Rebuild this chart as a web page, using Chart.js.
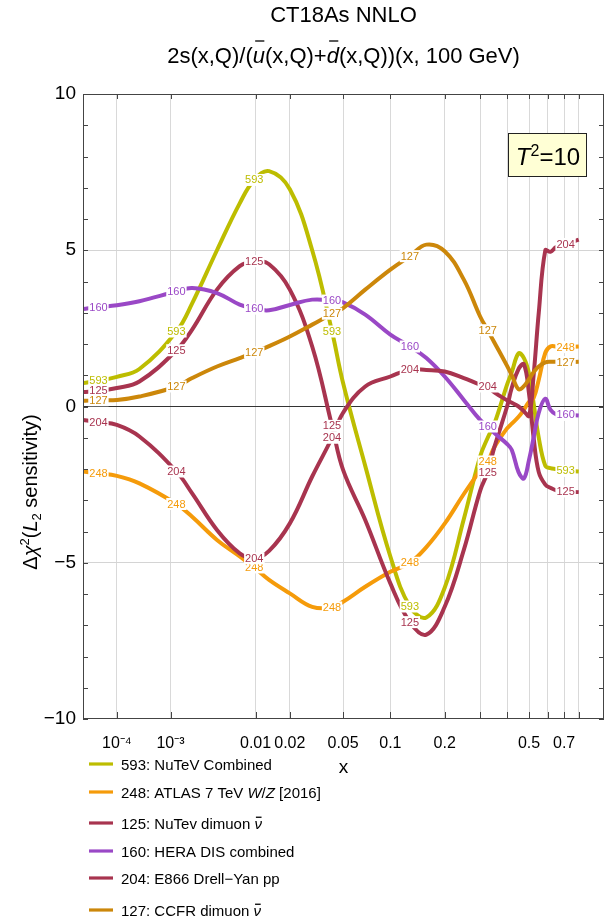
<!DOCTYPE html>
<html>
<head>
<meta charset="utf-8">
<script src="https://cdn.jsdelivr.net/npm/chart.js@4.4.0/dist/chart.umd.min.js"></script>
<style>
html, body { margin: 0; padding: 0; background: #fff; }
#caja { width: 615px; height: 924px; }
</style>
</head>
<body>
<div id="caja"><canvas id="grafica" width="615" height="924"></canvas></div>
<script>
// valores de x (momento) en los que se leen las curvas
const xs = [1e-5, 3.26e-5, 1e-4, 3e-4, 1.22e-3, 2e-3, 4e-3, 7e-3, 9.72e-3, 0.0133,
            0.02, 0.03, 0.0419, 0.05, 0.07, 0.1, 0.1297, 0.16, 0.2, 0.25,
            0.3, 0.3259, 0.35, 0.4, 0.42, 0.45, 0.475, 0.5, 0.523, 0.55,
            0.586, 0.615, 0.65, 0.7093, 0.8];

const nutevComb = [0.75, 0.82, 0.95, 1.2, 2.4, 3.3, 5.0, 6.5, 7.25, 7.53,
                   6.95, 5.0, 2.4, 0.75, -1.9, -4.8, -6.4, -6.75, -5.8, -3.6,
                   -1.6, -1.0, -0.55, 0.7, 1.1, 1.7, 1.55, 1.05, 0.1, -1.0,
                   -1.9, -1.97, -2.0, -2.06, -2.08];
const atlasWZ = [-2.08, -2.14, -2.22, -2.46, -3.12, -3.53, -4.27, -4.8, -5.15, -5.55,
                 -5.98, -6.41, -6.43, -6.25, -5.77, -5.29, -5.0, -4.5, -3.75, -2.8,
                 -2.05, -1.76, -1.3, -0.7, -0.55, -0.33, -0.1, 0.15, 0.27, 0.86,
                 1.72, 1.92, 1.92, 1.9, 1.92];
const nutevDimuon = [0.46, 0.5, 0.59, 0.8, 1.8, 2.46, 3.74, 4.49, 4.65, 4.55,
                     3.74, 1.92, -0.62, -2.03, -3.63, -5.66, -6.9, -7.3, -6.41, -4.59,
                     -2.7, -2.1, -1.3, 0.0, 0.6, 1.2, 1.35, 0.4, -1.0, -2.1,
                     -2.5, -2.6, -2.68, -2.72, -2.74];
const heraDis = [3.12, 3.18, 3.24, 3.37, 3.68, 3.79, 3.63, 3.26, 3.13, 3.08,
                 3.25, 3.42, 3.39, 3.33, 2.94, 2.3, 1.92, 1.55, 0.96, 0.21,
                 -0.43, -0.64, -0.85, -1.2, -1.39, -2.1, -2.3, -1.7, -1.0, -0.2,
                 0.25, -0.1, -0.25, -0.27, -0.29];
const e866 = [-0.43, -0.5, -0.59, -0.96, -2.08, -2.78, -3.95, -4.7, -4.86, -4.62,
              -3.74, -2.24, -1.0, -0.2, 0.64, 0.96, 1.18, 1.17, 1.12, 0.91,
              0.7, 0.64, 0.45, 0.2, 0.12, 0.0, -0.15, -0.3, 1.0, 3.0,
              5.0, 4.95, 5.1, 5.2, 5.34];
const ccfr = [0.18, 0.2, 0.21, 0.32, 0.64, 0.91, 1.28, 1.55, 1.73, 1.93,
              2.24, 2.62, 2.97, 3.15, 3.74, 4.38, 4.81, 5.18, 4.97, 4.06,
              2.88, 2.44, 2.05, 1.3, 1.0, 0.55, 0.65, 0.88, 1.1, 1.28,
              1.41, 1.43, 1.43, 1.42, 1.43];

const ids = ["593", "248", "125", "160", "204", "127"];
const nombres = ["593: NuTeV Combined", "248: ATLAS 7 TeV W/Z [2016]", "125: NuTev dimuon \u03bd\u0304",
                 "160: HERA DIS combined", "204: E866 Drell\u2212Yan pp", "127: CCFR dimuon \u03bd\u0304"];
const colores = ["#BDBD00", "#F59B0A", "#A8344F", "#9A48C6", "#A8344F", "#CC870A"];
const valores = [nutevComb, atlasWZ, nutevDimuon, heraDis, e866, ccfr];

// etiquetas numericas sobre las curvas
const etiquetasX = [3.26e-5, 1.22e-3, 9.72e-3, 0.0419, 0.1297, 0.3259, 0.7093];
const omitidas = { "593": [0.3259] };

const xTicks = [1e-4, 1e-3, 0.01, 0.02, 0.05, 0.1, 0.2, 0.3, 0.4, 0.5, 0.6, 0.7, 0.8];
const xTickLabels = ["10\u207b\u2074", "10\u207b\u00b3", "0.01", "0.02", "0.05", "0.1", "0.2", "", "", "0.5", "", "0.7", ""];
const yTickLabels = [-10, -5, 0, 5, 10];

const FAMILIA = "'Liberation Sans', Arial, sans-serif";
const ESCALA = x => Math.pow(x, 0.2);

function fuente(r, size) {
    let s = (r.sup || r.sub) ? Math.round(size * 0.65) : size;
    return (r.i ? "italic " : "") + s + "px " + FAMILIA;
}

// dibuja trozos de texto (cursiva, super/subindices, barra)
function trozos(ctx, runs, x, y, size, centrado, barH) {
    let total = 0;
    runs.forEach(r => { ctx.font = fuente(r, size); r.w = ctx.measureText(r.t).width; total += r.w; });
    let px = centrado ? x - total / 2 : x;
    runs.forEach(r => {
        ctx.font = fuente(r, size);
        let dy = r.sup ? -size * 0.38 : (r.sub ? size * 0.22 : 0);
        ctx.fillText(r.t, px, y + dy);
        if (r.bar) {
            ctx.save();
            ctx.strokeStyle = ctx.fillStyle;
            ctx.lineWidth = 1.3;
            ctx.beginPath();
            ctx.moveTo(px + r.w * 0.2, y - size * barH);
            ctx.lineTo(px + r.w * 0.95, y - size * barH);
            ctx.stroke();
            ctx.restore();
        }
        px += r.w;
    });
}

function partesNombre(nombre) {
    return nombre.split(/(W|Z|\u03bd\u0304)/).filter(t => t.length).map(t => {
        if (t === "W" || t === "Z") return { t: t, i: true };
        if (t === "\u03bd\u0304") return { t: "\u03bd", i: true, bar: true };
        return { t: t };
    });
}

const decoracion = {
    id: "decoracion",
    afterDatasetsDraw(chart) {
        const ctx = chart.ctx;
        ctx.save();
        ctx.font = "11px " + FAMILIA;
        ctx.textAlign = "center";
        ctx.textBaseline = "middle";
        chart.data.datasets.forEach((ds, d) => {
            const meta = chart.getDatasetMeta(d);
            const fuera = omitidas[ids[d]] || [];
            etiquetasX.forEach(xe => {
                if (fuera.includes(xe)) return;
                const k = xs.indexOf(xe);
                const p = meta.data[k];
                const w = ctx.measureText(ids[d]).width + 2;
                ctx.fillStyle = "#fff";
                ctx.fillRect(p.x - w / 2, p.y - 6, w, 12);
                ctx.fillStyle = ds.borderColor;
                ctx.fillText(ids[d], p.x, p.y + 0.5);
            });
        });
        ctx.restore();
    },
    afterDraw(chart) {
        const ctx = chart.ctx;
        const a = chart.chartArea;
        const sx = chart.scales.x, sy = chart.scales.y;
        ctx.save();
        // marco
        ctx.strokeStyle = "#444";
        ctx.lineWidth = 1;
        ctx.strokeRect(a.left + 0.5, a.top + 0.5, a.right - a.left - 1, a.bottom - a.top - 1);
        // marcas interiores
        ctx.beginPath();
        for (let v = -10; v <= 10; v++) {
            const py = Math.round(sy.getPixelForValue(v)) + 0.5;
            ctx.moveTo(a.left, py); ctx.lineTo(a.left + 5, py);
            ctx.moveTo(a.right, py); ctx.lineTo(a.right - 5, py);
        }
        xTicks.forEach(v => {
            const px = Math.round(sx.getPixelForValue(ESCALA(v))) + 0.5;
            ctx.moveTo(px, a.bottom); ctx.lineTo(px, a.bottom - 7);
            ctx.moveTo(px, a.top); ctx.lineTo(px, a.top + 5);
        });
        ctx.stroke();

        ctx.fillStyle = "#000";
        ctx.textBaseline = "alphabetic";
        const cx = (a.left + a.right) / 2;
        // titulo
        ctx.textAlign = "left";
        trozos(ctx, [{ t: "CT18As NNLO" }], cx, 22, 22, true, 0);
        trozos(ctx, [{ t: "2s(x,Q)/(" }, { t: "u", i: true, bar: true }, { t: "(x,Q)+" },
                     { t: "d", i: true, bar: true }, { t: "(x,Q))(x, 100 GeV)" }], cx, 63, 22, true, 1.0);
        // titulo eje x
        trozos(ctx, [{ t: "x" }], cx, 773, 19, true, 0);
        // titulo eje y
        ctx.save();
        ctx.translate(37, 492);
        ctx.rotate(-Math.PI / 2);
        trozos(ctx, [{ t: "\u0394" }, { t: "\u03c7", i: true }, { t: "2", sup: true }, { t: "(" },
                     { t: "L", i: true }, { t: "2", sub: true }, { t: " sensitivity)" }], 0, 0, 20, true, 0);
        ctx.restore();
        // recuadro T^2
        ctx.fillStyle = "#FFFFD5";
        ctx.fillRect(508, 133, 79, 44);
        ctx.strokeStyle = "#222";
        ctx.strokeRect(508.5, 133.5, 78, 43);
        ctx.fillStyle = "#000";
        trozos(ctx, [{ t: "T", i: true }, { t: "2", sup: true }, { t: "=10" }], 548, 165, 24, true, 0);
        // leyenda
        const filas = [764, 792, 823, 851, 878, 910];
        ctx.lineWidth = 3.2;
        nombres.forEach((n, i) => {
            ctx.strokeStyle = colores[i];
            ctx.beginPath();
            ctx.moveTo(89, filas[i]); ctx.lineTo(113, filas[i]);
            ctx.stroke();
            ctx.fillStyle = "#000";
            trozos(ctx, partesNombre(n), 121, filas[i] + 5.5, 15, false, 0.75);
        });
        ctx.restore();
    }
};

Chart.defaults.font.family = FAMILIA;
const CANVAS = document.getElementById("grafica");
new Chart(CANVAS, {
    type: "line",
    data: {
        datasets: valores.map((vals, i) => ({
            label: nombres[i],
            data: xs.map((x, k) => ({ x: ESCALA(x), y: vals[k] })),
            borderColor: colores[i],
            borderWidth: 4,
            pointRadius: 0,
            fill: false,
            tension: 0.4,
            order: 6 - i
        }))
    },
    options: {
        responsive: false,
        animation: false,
        devicePixelRatio: 1,
        layout: { padding: { left: 0, right: 11, top: 94, bottom: 145 } },
        plugins: { legend: { display: false }, title: { display: false }, tooltip: { enabled: false } },
        scales: {
            x: {
                type: "linear",
                min: 0.1,
                max: 1,
                afterBuildTicks: s => { s.ticks = xTicks.map(v => ({ value: ESCALA(v) })); },
                afterFit: s => { s.height = 60; },
                grid: { color: "#d9d9d9", drawTicks: false },
                border: { display: false },
                ticks: {
                    callback: (v, i) => xTickLabels[i],
                    autoSkip: false, maxRotation: 0, padding: 15,
                    color: "#000", font: { size: 16 }
                }
            },
            y: {
                min: -10,
                max: 10,
                afterFit: s => { s.width = 83; },
                grid: {
                    drawTicks: false,
                    color: c => c.tick.value === 0 ? "#333" :
                        (Math.abs(c.tick.value) === 5 ? "#d4d4d4" : "rgba(0,0,0,0)")
                },
                border: { display: false },
                ticks: {
                    stepSize: 1, autoSkip: false, padding: 7,
                    color: "#000", font: { size: 19 },
                    callback: v => yTickLabels.includes(v) ? (v < 0 ? "\u2212" + (-v) : String(v)) : ""
                }
            }
        }
    },
    plugins: [decoracion]
});
</script>
</body>
</html>
